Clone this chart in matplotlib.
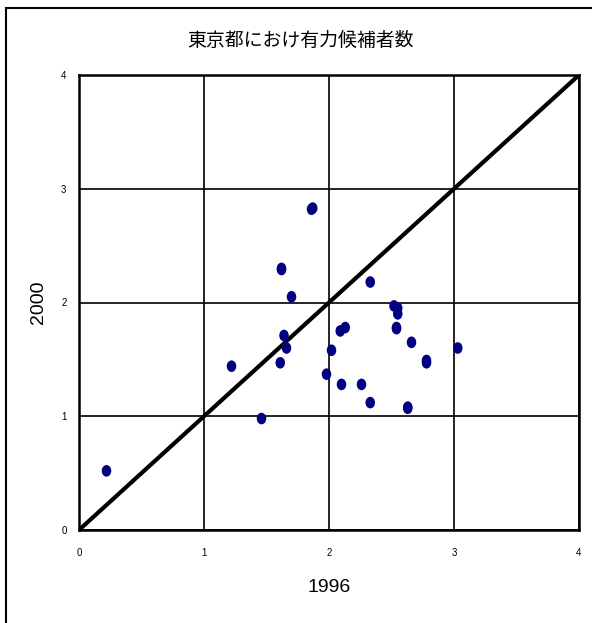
import numpy as np
import matplotlib
matplotlib.use('Agg')
import matplotlib.pyplot as plt
from matplotlib.path import Path
from matplotlib.patches import Rectangle

plt.rcParams['font.family']=['Liberation Sans','Noto Sans CJK JP','DejaVu Sans']

title='東京都におけ有力候補者数'
xlabel='1996'
ylabel='2000'
ticks=[0,1,2,3,4]

# candidates per district, 1996 vs 2000
x1996=[0.22,1.22,1.46,1.61,1.62,1.62,1.64,1.66,1.70,1.86,1.87,1.98,2.02,2.09,2.13,2.10,2.26,2.33,2.33,
       2.52,2.55,2.55,2.54,2.54,2.66,2.78,2.78,3.03,2.63,2.63]
y2000=[0.52,1.44,0.98,1.47,2.29,2.30,1.71,1.60,2.05,2.82,2.83,1.37,1.58,1.75,1.78,1.28,1.28,2.18,1.12,
       1.97,1.95,1.90,1.77,1.78,1.65,1.49,1.47,1.60,1.08,1.07]

W,H=592,623
fig=plt.figure(figsize=(W/100,H/100),dpi=100)
ax=fig.add_axes([79/W,1-530/H,500/W,455/H])

# vertical ellipse marker
c=Path.unit_circle()
ell=Path(c.vertices*np.array([0.82,1.0]),c.codes)

ax.plot([0,4],[0,4],color='black',lw=3,zorder=3,solid_capstyle='butt')
ax.scatter(x1996,y2000,marker=ell,s=70,color='#000080',edgecolors='none',zorder=4)

ax.set_xlim(0,4)
ax.set_ylim(0,4)
ax.set_xticks(ticks)
ax.set_yticks(ticks)
ax.set_xticklabels([str(t) for t in ticks],fontsize=7)
ax.set_yticklabels([str(t) for t in ticks],fontsize=7)
ax.tick_params(length=0,pad=9)
ax.tick_params(axis='x',pad=13)
ax.grid(True,color='black',lw=1.2)
ax.set_axisbelow(True)
for s in ax.spines.values():
    s.set_linewidth(1.8)

fig.text(329/W,1-587/H,xlabel,ha='center',va='center',fontsize=14)
fig.text(38/W,1-302/H,ylabel,ha='center',va='center',rotation=90,fontsize=14)
fig.text(300/W,1-40/H,title,ha='center',va='center',fontsize=13.6,family=['Noto Sans CJK JP','DejaVu Sans'])

fig.patches.append(Rectangle((6/W,-0.1),1.2,1-8/H+0.1,transform=fig.transFigure,fill=False,lw=1.5,edgecolor='black'))

fig.savefig('out.png',dpi=100)
